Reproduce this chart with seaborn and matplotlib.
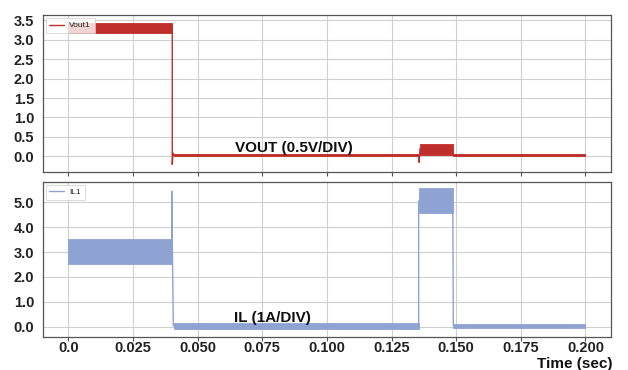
import matplotlib
matplotlib.use("Agg")
import matplotlib.pyplot as plt
import seaborn as sns
import pandas as pd

# ---- Output voltage trace (breakpoints of the mean trace) ----
vout_t = [0.000, 0.0402, 0.0402, 0.0405, 0.0408, 0.1356, 0.1357, 0.1360, 0.1486, 0.1488, 0.200]
vout_v = [3.30, 3.30, -0.20, 0.09, 0.03, 0.03, -0.15, 0.20, 0.20, 0.03, 0.03]
# switching-ripple envelope per segment
vout_seg_start = [0.000, 0.0408, 0.1360, 0.1488]
vout_seg_end = [0.0402, 0.1356, 0.1486, 0.200]
vout_lo = [3.16, 0.00, 0.04, 0.00]
vout_hi = [3.43, 0.06, 0.33, 0.06]

# ---- Inductor current trace ----
il_t = [0.000, 0.0400, 0.0400, 0.0406, 0.0408, 0.1355, 0.1355, 0.1487, 0.1489, 0.200]
il_v = [3.00, 3.00, 5.45, 0.04, 0.04, 0.04, 5.05, 5.05, 0.04, 0.04]
il_seg_start = [0.000, 0.0408, 0.1357, 0.1489]
il_seg_end = [0.0400, 0.1355, 0.1487, 0.200]
il_lo = [2.52, -0.08, 4.58, -0.07]
il_hi = [3.52, 0.14, 5.57, 0.13]

x_ticks = [0.0, 0.025, 0.050, 0.075, 0.100, 0.125, 0.150, 0.175, 0.200]
x_labels = ["0.0", "0.025", "0.050", "0.075", "0.100", "0.125", "0.150", "0.175", "0.200"]
vout_ticks = [0.0, 0.5, 1.0, 1.5, 2.0, 2.5, 3.0, 3.5]
il_ticks = [0.0, 1.0, 2.0, 3.0, 4.0, 5.0]

RED = "#bf2e2a"
BLUE = "#8fa3d2"

sns.set_theme(style="whitegrid")
plt.rcParams["font.family"] = ["Liberation Sans", "DejaVu Sans"]

fig = plt.figure(figsize=(6.28, 3.70), dpi=100)
ax1 = fig.add_axes([0.068, 0.536, 0.905, 0.4235])
ax2 = fig.add_axes([0.068, 0.090, 0.905, 0.419])

def draw(ax, t, v, s0, s1, lo, hi, color, label):
    df = pd.DataFrame({"t": t, "v": v})
    sns.lineplot(data=df, x="t", y="v", ax=ax, color=color, lw=1.0,
                 label=label, sort=False, estimator=None)
    for a, b, l, h in zip(s0, s1, lo, hi):
        ax.fill_between([a, b], [l, l], [h, h], color=color, lw=0.6,
                        edgecolor=color, alpha=1.0)

draw(ax1, vout_t, vout_v, vout_seg_start, vout_seg_end, vout_lo, vout_hi, RED, "Vout1")
draw(ax2, il_t, il_v, il_seg_start, il_seg_end, il_lo, il_hi, BLUE, "IL1")

ax1.set_ylim(-0.39, 3.63)
ax2.set_ylim(-0.40, 5.83)
ax1.set_yticks(vout_ticks)
ax1.set_yticklabels([f"{v:.1f}" for v in vout_ticks])
ax2.set_yticks(il_ticks)
ax2.set_yticklabels([f"{v:.1f}" for v in il_ticks])

for ax in (ax1, ax2):
    ax.set_xlim(-0.0099, 0.2099)
    ax.set_xticks(x_ticks)
    ax.set_xlabel("")
    ax.set_ylabel("")
    ax.grid(True, color="#cfcfcf", lw=0.8)
    for sp in ax.spines.values():
        sp.set_color("#555555")
        sp.set_linewidth(0.9)
    ax.tick_params(axis="x", which="both", bottom=True, length=3, width=0.8,
                   color="#555555", direction="out", pad=0)
    ax.tick_params(axis="y", left=False, length=0, pad=6)
    for lab in ax.get_yticklabels():
        lab.set_fontweight("bold")
        lab.set_fontsize(10.5)
        lab.set_color("#222222")
    leg = ax.legend(loc="upper left", fontsize=6, frameon=True, handlelength=1.8,
                    handletextpad=0.6, borderpad=0.45, borderaxespad=0.35,
                    fancybox=False)
    leg.get_frame().set_edgecolor("#cccccc")
    leg.get_frame().set_linewidth(0.6)

ax1.set_xticklabels([])
ax2.set_xticklabels(x_labels, fontweight="bold", fontsize=10.5, color="#222222")

ax1.text(0.0645, 0.11, "VOUT (0.5V/DIV)", fontsize=11, fontweight="bold", color="#111111")
ax2.text(0.0640, 0.20, "IL (1A/DIV)", fontsize=11, fontweight="bold", color="#111111")
fig.text(0.976, 0.036, "Time (sec)", ha="right", va="top", fontsize=11,
         fontweight="bold", color="#111111")

fig.savefig("out.png", dpi=100)
